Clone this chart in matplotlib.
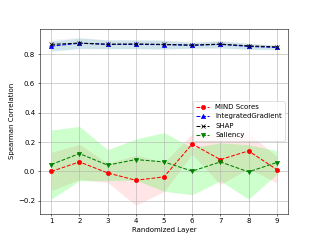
import matplotlib
matplotlib.use("Agg")
import matplotlib.pyplot as plt
import numpy as np

layers = [1, 2, 3, 4, 5, 6, 7, 8, 9]

mind_mean = [0.0, 0.065, -0.01, -0.06, -0.037, 0.187, 0.081, 0.14, 0.013]
mind_std = [0.13, 0.12, 0.065, 0.17, 0.10, 0.07, 0.17, 0.12, 0.09]

ig_mean = [0.854, 0.874, 0.866, 0.866, 0.864, 0.860, 0.866, 0.852, 0.845]
ig_std = [0.035, 0.035, 0.03, 0.03, 0.03, 0.02, 0.025, 0.02, 0.015]

shap_mean = [0.866, 0.875, 0.867, 0.869, 0.866, 0.861, 0.868, 0.856, 0.849]
shap_std = [0.035, 0.04, 0.03, 0.03, 0.03, 0.02, 0.025, 0.02, 0.015]

sal_mean = [0.047, 0.122, 0.043, 0.081, 0.065, 0.002, 0.065, -0.003, 0.061]
sal_std = [0.235, 0.185, 0.105, 0.14, 0.20, 0.16, 0.13, 0.185, 0.08]

fig, ax = plt.subplots(figsize=(6.4, 4.8), dpi=50)

x = np.array(layers)

def band(mean, std, color, alpha):
    m = np.array(mean); s = np.array(std)
    ax.fill_between(x, m - s, m + s, color=color, alpha=alpha, linewidth=0)

band(mind_mean, mind_std, 'red', 0.1)
band(ig_mean, ig_std, 'lightblue', 0.5)
band(shap_mean, shap_std, 'gray', 0.08)
band(sal_mean, sal_std, 'lime', 0.2)

ax.plot(x, mind_mean, 'ro--', label='MIND Scores')
ax.plot(x, ig_mean, 'b^--', label='IntegratedGradient')
ax.plot(x, shap_mean, 'kx--', label='SHAP')
ax.plot(x, sal_mean, 'gv--', label='Saliency')

ax.set_xticks(layers)
ax.set_xlabel('Randomized Layer')
ax.set_ylabel('Spearman Correlation')
ax.grid(True)
ax.legend(loc='center right')

fig.savefig('out.png', dpi=50)
